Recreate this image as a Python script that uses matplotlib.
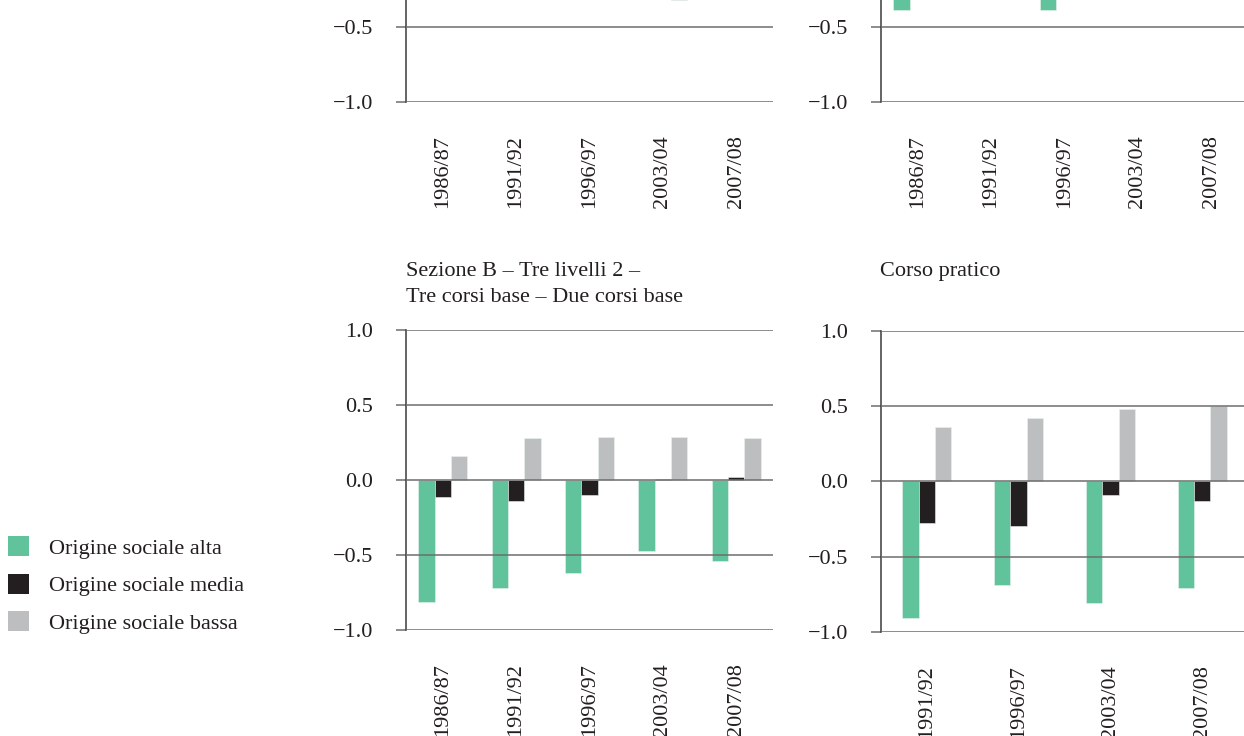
"""
Barre raggruppate per origine sociale, quattro pannelli (ritaglio)
"""

import numpy as np
import matplotlib
matplotlib.use('Agg')
from matplotlib import pyplot as plt
from matplotlib.patches import Patch


years = ['1986/87', '1991/92', '1996/97', '2003/04', '2007/08']
years_pratico = ['1991/92', '1996/97', '2003/04', '2007/08']

series = ['Origine sociale alta', 'Origine sociale media', 'Origine sociale bassa']
colors = ['#60c39b', '#231f20', '#bcbec0']

# top panels are cut off in the picture: only these values can be read
top_left_alta = [np.nan, np.nan, np.nan, np.nan, np.nan]
top_left_media = [np.nan, np.nan, np.nan, np.nan, np.nan]
top_left_bassa = [np.nan, np.nan, np.nan, -0.32, np.nan]

top_right_alta = [-0.39, np.nan, -0.39, np.nan, np.nan]
top_right_media = [np.nan, np.nan, np.nan, np.nan, np.nan]
top_right_bassa = [np.nan, np.nan, np.nan, np.nan, np.nan]

# Sezione B - Tre livelli 2 - Tre corsi base - Due corsi base
sez_b_alta = [-0.81, -0.72, -0.62, -0.47, -0.54]
sez_b_media = [-0.11, -0.14, -0.10, 0.01, 0.02]
sez_b_bassa = [0.16, 0.28, 0.29, 0.29, 0.28]

# Corso pratico
pratico_alta = [-0.91, -0.69, -0.81, -0.71]
pratico_media = [-0.28, -0.30, -0.09, -0.13]
pratico_bassa = [0.36, 0.42, 0.48, 0.50]

FS = 16
GRID = '#6d6d6d'
SPINE = '#3a3a3a'
TXT = '#231f20'


def draw_panel(fig, rect, labels, values, width, yticks):
    ax = fig.add_axes(rect)
    x = np.arange(len(labels))
    for i, vals in enumerate(values):
        ax.bar(x + (i - 1) * width, vals, width, color=colors[i],
               edgecolor='#e8f3ee', linewidth=0.4, zorder=2)
    for y in [-1.0, -0.5, 0.0, 0.5, 1.0]:
        ax.axhline(y, color=GRID, linewidth=1.1, zorder=3)
    ax.set_xlim(-0.5, len(labels) - 0.5)
    ax.set_ylim(-1.0, 1.0)
    ax.set_yticks(yticks)
    ax.set_yticklabels([('%.1f' % t).replace('-', '\u2212') for t in yticks])
    ax.set_xticks(x)
    ax.set_xticklabels(labels, rotation=90)
    for s in ['top', 'right', 'bottom']:
        ax.spines[s].set_visible(False)
    ax.spines['left'].set_color(SPINE)
    ax.spines['left'].set_linewidth(1.1)
    ax.tick_params(axis='y', length=7, width=1.1, color=GRID, pad=16.5,
                   labelsize=FS, labelcolor=TXT)
    ax.tick_params(axis='x', length=0, pad=24, labelsize=FS,
                   labelcolor=TXT)
    return ax


def main():
    plt.rcParams['font.family'] = ['Liberation Serif', 'DejaVu Serif']

    W, H = 1244, 736
    fig = plt.figure(figsize=(W / 100, H / 100), dpi=100)

    def rect(x0, x1, y_m1, y_p1):
        return [x0 / W, 1 - y_m1 / H, (x1 - x0) / W, (y_m1 - y_p1) / H]

    bw5 = 16.3 / 73.4
    bw4 = 16.3 / 91.8
    all_ticks = [-1.0, -0.5, 0.0, 0.5, 1.0]
    # upper part of the top panels lies outside the picture
    low_ticks = [-1.0, -0.5]

    draw_panel(fig, rect(406, 773, 102, -198), years,
               [top_left_alta, top_left_media, top_left_bassa], bw5, low_ticks)
    draw_panel(fig, rect(881, 1248, 101.7, -198.3), years,
               [top_right_alta, top_right_media, top_right_bassa], bw5, low_ticks)
    draw_panel(fig, rect(406, 773, 630, 330), years,
               [sez_b_alta, sez_b_media, sez_b_bassa], bw5, all_ticks)
    draw_panel(fig, rect(881, 1248, 632, 330.5), years_pratico,
               [pratico_alta, pratico_media, pratico_bassa], bw4, all_ticks)

    # titles
    fig.text(406 / W, 1 - 276.5 / H, 'Sezione B \u2013 Tre livelli 2 \u2013',
             fontsize=FS, color=TXT, ha='left', va='baseline')
    fig.text(406 / W, 1 - 302 / H, 'Tre corsi base \u2013 Due corsi base',
             fontsize=FS, color=TXT, ha='left', va='baseline')
    fig.text(880 / W, 1 - 276 / H, 'Corso pratico',
             fontsize=FS, color=TXT, ha='left', va='baseline')

    handles = [Patch(facecolor=c, edgecolor='none') for c in colors]
    fig.legend(handles, series, loc='upper left',
               bbox_to_anchor=(8 / W, 1 - 536 / H), frameon=False,
               fontsize=FS, handlelength=0.95, handleheight=1.0,
               handletextpad=0.9, labelspacing=0.68, borderpad=0,
               borderaxespad=0, labelcolor=TXT)

    fig.savefig('out.png', dpi=100)


if __name__ == '__main__':
    main()
